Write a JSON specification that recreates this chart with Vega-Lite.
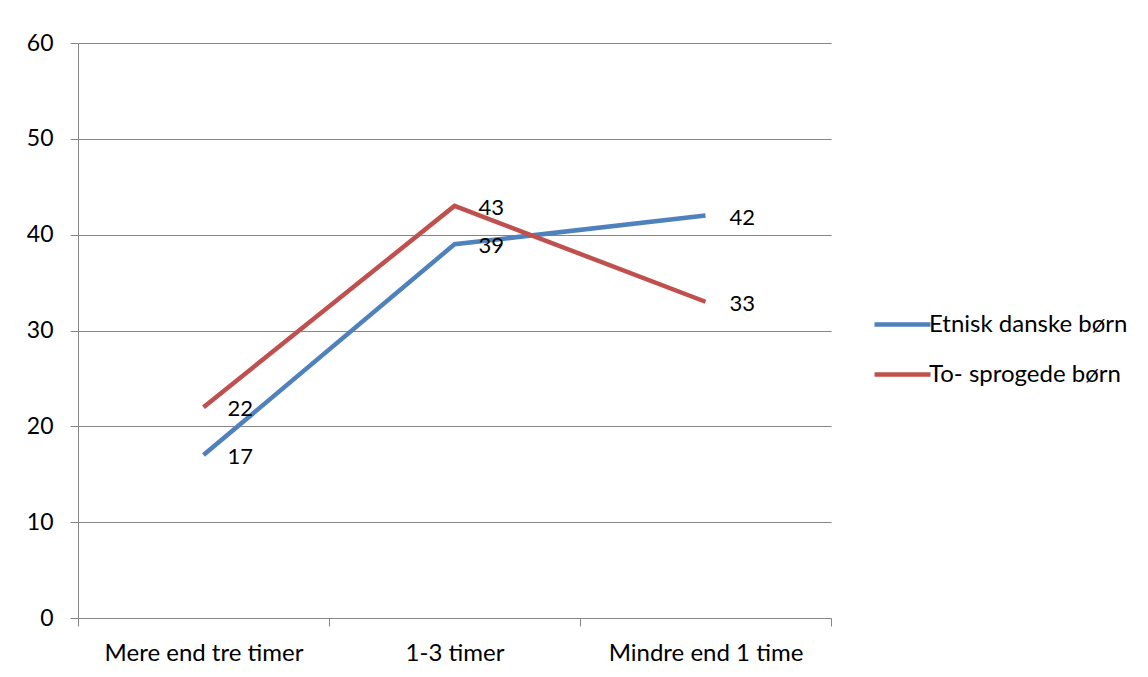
{
  "$schema": "https://vega.github.io/schema/vega-lite/v6.json",
  "width": 753,
  "height": 575,
  "autosize": {"type": "none"},
  "padding": {"left": 78, "top": 43, "right": 317, "bottom": 59},
  "background": "white",
  "config": {
    "view": {"stroke": null},
    "font": "Lato",
    "axis": {"labelFont": "Lato", "labelFontSize": 24, "labelColor": "#000000", "labelLimit": 0}
  },
  "data": {
    "values": [
      {"kategori": "Mere end tre timer", "gruppe": "Etnisk danske børn", "pct": 17},
      {"kategori": "1-3 timer", "gruppe": "Etnisk danske børn", "pct": 39},
      {"kategori": "Mindre end 1 time", "gruppe": "Etnisk danske børn", "pct": 42},
      {"kategori": "Mere end tre timer", "gruppe": "To- sprogede børn", "pct": 22},
      {"kategori": "1-3 timer", "gruppe": "To- sprogede børn", "pct": 43},
      {"kategori": "Mindre end 1 time", "gruppe": "To- sprogede børn", "pct": 33}
    ]
  },
  "encoding": {
    "x": {
      "field": "kategori",
      "type": "nominal",
      "sort": ["Mere end tre timer", "1-3 timer", "Mindre end 1 time"],
      "scale": {"paddingInner": 0, "paddingOuter": 0},
      "axis": {
        "title": null,
        "labelAngle": 0,
        "tickBand": "extent",
        "ticks": true,
        "tickColor": "#868686",
        "tickSize": 8,
        "domainColor": "#868686",
        "labelPadding": 15,
        "grid": false
      }
    },
    "y": {
      "field": "pct",
      "type": "quantitative",
      "scale": {"domain": [0, 60]},
      "axis": {
        "title": null,
        "values": [0, 10, 20, 30, 40, 50, 60],
        "labelFontSize": 23,
        "tickColor": "#868686",
        "tickSize": 8,
        "domainColor": "#868686",
        "gridColor": "#868686",
        "labelPadding": 17
      }
    },
    "color": {
      "field": "gruppe",
      "type": "nominal",
      "scale": {"domain": ["Etnisk danske børn", "To- sprogede børn"], "range": ["#4F81BD", "#C0504D"]},
      "legend": {
        "title": null,
        "orient": "none",
        "legendX": 794,
        "legendY": 251,
        "symbolType": "stroke",
        "symbolSize": 3136,
        "symbolStrokeWidth": 4.5,
        "labelFontSize": 24,
        "labelFont": "Lato",
        "labelColor": "#000000",
        "labelLimit": 0,
        "labelOffset": -4,
        "rowPadding": 7,
        "padding": 0
      }
    }
  },
  "layer": [
    {"mark": {"type": "line", "strokeWidth": 4.5}},
    {
      "mark": {"type": "text", "align": "left", "baseline": "middle", "dx": 24, "dy": 2, "fontSize": 22, "font": "Lato", "color": "#000000"},
      "encoding": {"text": {"field": "pct", "type": "quantitative"}, "color": {"value": "#000000"}}
    }
  ]
}
